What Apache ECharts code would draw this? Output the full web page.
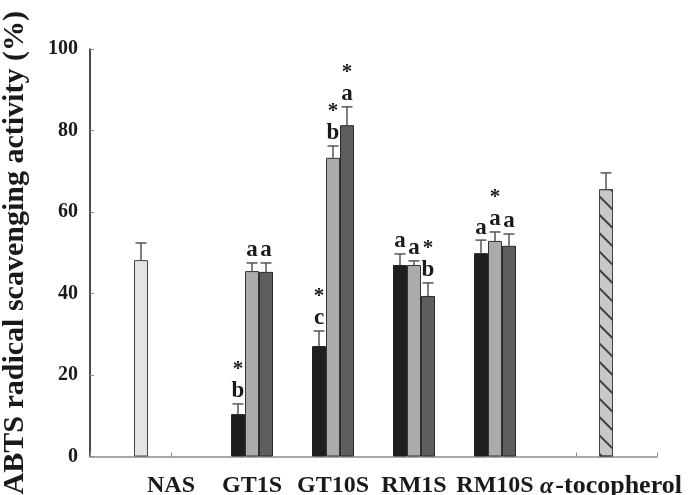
<!DOCTYPE html>
<html>
<head>
<meta charset="utf-8">
<script src="https://cdn.jsdelivr.net/npm/echarts@6/dist/echarts.min.js"></script>
<style>
  html, body { margin: 0; padding: 0; background: #fff; }
  #chart { width: 698px; height: 495px; }
</style>
</head>
<body>
<div id="chart"></div>
<script>
  // x axis slots, empty slots pad both ends so the ticks fall where the picture has them
  const categories = ['', 'NAS', 'GT1S', 'GT10S', 'RM1S', 'RM10S', 'α-tocopherol', '']
  const groups = ['GT1S', 'GT10S', 'RM1S', 'RM10S']

  const blackMean = [10.4, 27.1, 47.0, 49.9]
  const blackErr = [2.5, 3.7, 2.7, 3.2]
  const blackLetter = ['b', 'c', 'a', 'a']
  const blackStar = [true, true, false, false]

  const grayMean = [45.5, 73.3, 47.0, 52.9]
  const grayErr = [2.0, 2.9, 1.0, 2.2]
  const grayLetter = ['a', 'b', 'a', 'a']
  const grayStar = [false, true, false, true]

  const darkMean = [45.3, 81.3, 39.4, 51.7]
  const darkErr = [2.2, 4.5, 3.2, 2.9]
  const darkLetter = ['a', 'a', 'b', 'a']
  const darkStar = [false, true, true, false]

  const nasMean = 48.2
  const nasErr = 4.2
  const tocMean = 65.6
  const tocErr = 4.0

  const yTicks = [0, 20, 40, 60, 80, 100]

  const FONT = "'Liberation Serif', 'Times New Roman', serif"
  const BAR_W = 14
  const SIDE_OFFSET = 30

  const chart = echarts.init(document.getElementById('chart'))

  function slotData (values, names) {
    const out = categories.map(() => null)
    names.forEach((n, i) => { out[categories.indexOf(n)] = values[i] })
    return out
  }

  function errData (means, errs, names) {
    return names.map((n, i) => [categories.indexOf(n), means[i], errs[i]])
  }

  function errRender (offset, letters, stars) {
    return function (params, api) {
      const x = api.value(0)
      const m = api.value(1)
      const e = api.value(2)
      const top = api.coord([x, m + e])
      const base = api.coord([x, m])
      const cx = top[0] + offset
      const children = [
        { type: 'line', shape: { x1: cx, y1: base[1], x2: cx, y2: top[1] }, style: { stroke: '#555', lineWidth: 1.5 } },
        { type: 'line', shape: { x1: cx - 5.5, y1: top[1], x2: cx + 5.5, y2: top[1] }, style: { stroke: '#555', lineWidth: 1.5 } }
      ]
      const letter = letters && letters[params.dataIndex]
      if (letter) {
        children.push({
          type: 'text',
          style: { text: letter, x: cx, y: top[1] - 1, align: 'center', verticalAlign: 'bottom', font: 'bold 23px ' + FONT, fill: '#1a1a1a' }
        })
        if (stars[params.dataIndex]) {
          children.push({
            type: 'text',
            style: { text: '*', x: cx, y: top[1] - 24, align: 'center', verticalAlign: 'bottom', font: 'bold 21px ' + FONT, fill: '#1a1a1a' }
          })
        }
      }
      return { type: 'group', children }
    }
  }

  const barBase = { type: 'bar', barWidth: BAR_W, barGap: '0%', xAxisIndex: 0, z: 2 }
  const sideGap = ((2 * SIDE_OFFSET - BAR_W) / BAR_W * 100).toFixed(1) + '%'

  const option = {
    animation: false,
    grid: { left: 90, right: 41, top: 49, bottom: 38.5, outerBoundsMode: 'none' },
    xAxis: [
      {
        type: 'category',
        data: categories,
        boundaryGap: false,
        axisLine: { lineStyle: { color: '#8c8c8c', width: 1.5 } },
        axisTick: { inside: true, length: 4, lineStyle: { color: '#8c8c8c' } },
        axisLabel: {
          interval: 0,
          hideOverlap: false,
          margin: 17,
          fontFamily: FONT,
          fontWeight: 'bold',
          fontSize: 24,
          color: '#1a1a1a',
          formatter: function (v) {
            if (v === 'α-tocopherol') return '{ai|α}{t|-tocopherol}'
            return v
          },
          rich: {
            ai: { fontFamily: FONT, fontWeight: 'bold', fontStyle: 'italic', fontSize: 24, color: '#1a1a1a', padding: [0, 2, 0, 70] },
            t: { fontFamily: FONT, fontWeight: 'bold', fontSize: 26, color: '#1a1a1a' }
          }
        },
        splitLine: { show: false }
      },
      {
        type: 'category',
        data: categories,
        boundaryGap: false,
        show: false
      }
    ],
    yAxis: {
      type: 'value',
      min: yTicks[0],
      max: yTicks[yTicks.length - 1],
      interval: 20,
      name: 'ABTS radical scavenging activity (%)',
      nameLocation: 'middle',
      nameGap: 60,
      nameTextStyle: { fontFamily: FONT, fontWeight: 'bold', fontSize: 30, color: '#1a1a1a' },
      axisLine: { show: true, lineStyle: { color: '#111', width: 1.5 } },
      axisTick: { show: true, inside: true, length: 4, lineStyle: { color: '#8c8c8c' } },
      axisLabel: { margin: 12, fontFamily: FONT, fontWeight: 'bold', fontSize: 20, color: '#1a1a1a' },
      splitLine: { show: false }
    },
    series: [
      Object.assign({}, barBase, { name: 'S1', data: slotData(blackMean, groups), itemStyle: { color: '#1e1e1e', borderColor: '#222', borderWidth: 1 } }),
      Object.assign({}, barBase, { name: 'S2', data: slotData(grayMean, groups), itemStyle: { color: '#ababab', borderColor: '#333', borderWidth: 1 } }),
      Object.assign({}, barBase, { name: 'S3', data: slotData(darkMean, groups), itemStyle: { color: '#5e5e5e', borderColor: '#2a2a2a', borderWidth: 1 } }),
      {
        type: 'bar', name: 'NAS', xAxisIndex: 1, barWidth: BAR_W, barGap: sideGap,
        data: slotData([nasMean], ['NAS']),
        itemStyle: { color: '#e4e4e4', borderColor: '#444', borderWidth: 1 }
      },
      {
        type: 'bar', name: 'α-tocopherol', xAxisIndex: 1, barWidth: BAR_W, barGap: sideGap,
        data: slotData([tocMean], ['α-tocopherol']),
        itemStyle: {
          color: '#c8c8c8',
          borderColor: '#444',
          borderWidth: 1,
          decal: { symbol: 'rect', symbolSize: 1, color: 'rgba(30,30,30,0.8)', dashArrayX: [1, 0], dashArrayY: [1.2, 11], rotation: Math.PI / 4 }
        }
      },
      { type: 'custom', xAxisIndex: 0, z: 5, clip: false, data: errData(blackMean, blackErr, groups), renderItem: errRender(-BAR_W, blackLetter, blackStar) },
      { type: 'custom', xAxisIndex: 0, z: 5, clip: false, data: errData(grayMean, grayErr, groups), renderItem: errRender(0, grayLetter, grayStar) },
      { type: 'custom', xAxisIndex: 0, z: 5, clip: false, data: errData(darkMean, darkErr, groups), renderItem: errRender(BAR_W, darkLetter, darkStar) },
      { type: 'custom', xAxisIndex: 1, z: 5, clip: false, data: errData([nasMean], [nasErr], ['NAS']), renderItem: errRender(-SIDE_OFFSET, null, null) },
      { type: 'custom', xAxisIndex: 1, z: 5, clip: false, data: errData([tocMean], [tocErr], ['α-tocopherol']), renderItem: errRender(SIDE_OFFSET, null, null) }
    ]
  }

  chart.setOption(option)
</script>
</body>
</html>
